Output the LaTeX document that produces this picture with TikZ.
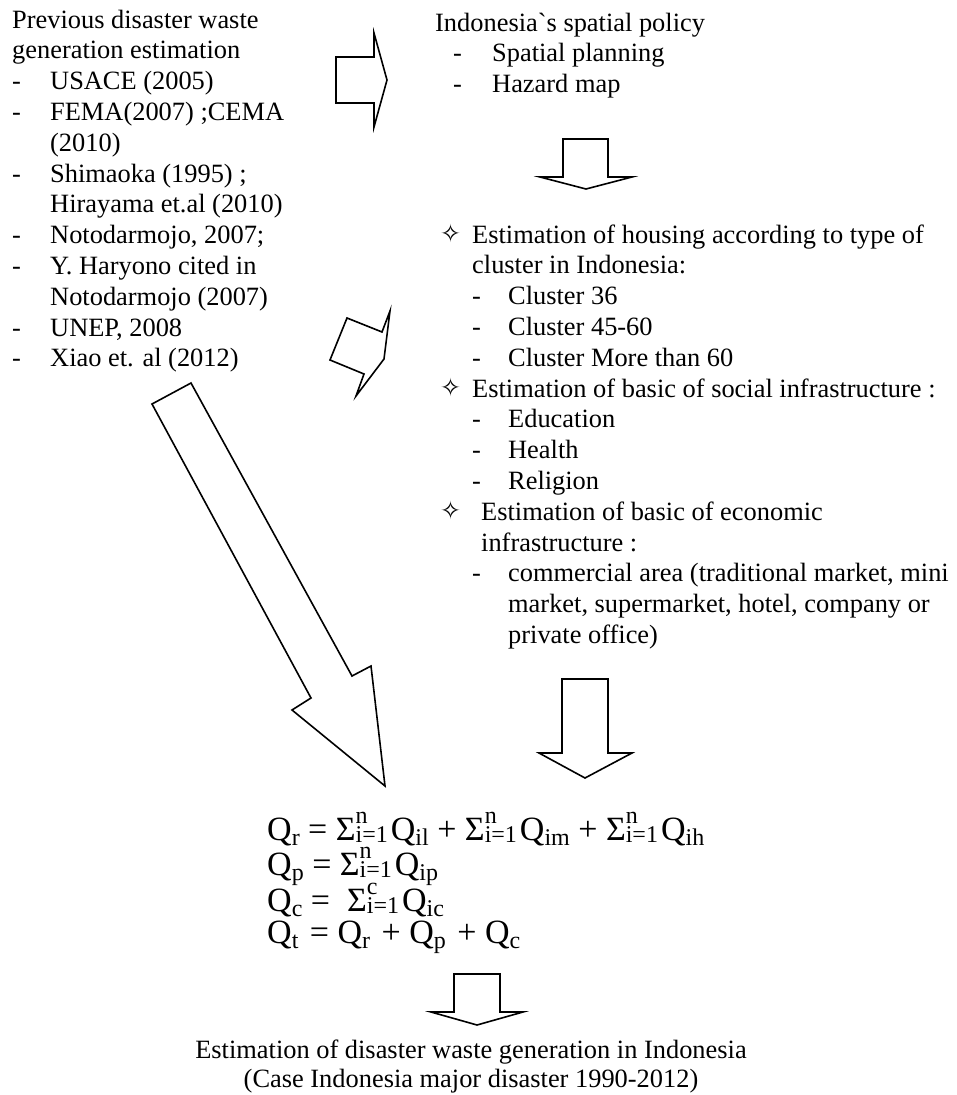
\documentclass[tikz,border=0pt]{standalone}
\usepackage{fontspec}
\setmainfont{Liberation Serif}
\newfontfamily\symfont{DejaVu Sans}
\newfontfamily\gravefont{Liberation Serif}[Ligatures=TeXOff]

% list helpers
\newcommand\dashitem[2]{\makebox[#1][l]{-}#2}
\newcommand\starmark[1]{\makebox[#1][l]{\raisebox{1pt}{\symfont\fontsize{25}{25}\selectfont ✧}}}
% equation pieces: subscripted Q and a sigma with side limits
\newcommand\scr{\fontsize{24}{24}\selectfont}
\newcommand\Qs[1]{Q\raisebox{-5.5pt}{\scr #1}}
\newcommand\sumi[1]{Σ\hbox{\scr\rlap{\raisebox{17pt}{#1}}\raisebox{-2pt}{i=1}}\hspace{3pt}}

\tikzset{
  txt/.style={anchor=base west, inner sep=0pt, font=\fontsize{26.4}{30.8}\selectfont},
  ctxt/.style={anchor=base, inner sep=0pt, font=\fontsize{26.4}{29}\selectfont},
  eqn/.style={anchor=base west, inner sep=0pt, font=\fontsize{34}{36}\selectfont},
  blockarrow/.style={draw=black, line width=1.6pt, line join=miter},
}

\begin{document}
\begin{tikzpicture}[x=1pt, y=-1pt]
  \fill[white] (0,0) rectangle (956,1095);
  \useasboundingbox (0,0) rectangle (956,1095);

  % source literature
  \node[txt] (prev) at (12,28) {\begin{tabular}[t]{@{}l@{}}
    Previous disaster waste\\
    generation estimation\\
    \dashitem{38pt}{USACE (2005)}\\
    \dashitem{38pt}{FEMA(2007) ;CEMA}\\
    \hspace*{38pt}(2010)\\
    \dashitem{38pt}{Shimaoka (1995) ;}\\
    \hspace*{38pt}Hirayama et.al (2010)\\
    \dashitem{38pt}{Notodarmojo, 2007;}\\
    \dashitem{38pt}{Y. Haryono cited in}\\
    \hspace*{38pt}Notodarmojo (2007)\\
    \dashitem{38pt}{UNEP, 2008}\\
    \dashitem{38pt}{Xiao et. al (2012)}
  \end{tabular}};

  % spatial policy
  \node[txt] (policy) at (435,31) {\begin{tabular}[t]{@{}l@{}}
    Indonesia{\gravefont `}s spatial policy\\
    \hspace*{18pt}\dashitem{39pt}{Spatial planning}\\
    \hspace*{18pt}\dashitem{39pt}{Hazard map}
  \end{tabular}};

  % estimation of buildings
  \node[txt] (est) at (440,243) {\begin{tabular}[t]{@{}l@{}}
    \starmark{32pt}Estimation of housing according to type of\\
    \hspace*{32pt}cluster  in Indonesia:\\
    \hspace*{32pt}\dashitem{36pt}{Cluster 36}\\
    \hspace*{32pt}\dashitem{36pt}{Cluster 45-60}\\
    \hspace*{32pt}\dashitem{36pt}{Cluster More than 60}\\
    \starmark{32pt}Estimation of basic of social infrastructure :\\
    \hspace*{32pt}\dashitem{36pt}{Education}\\
    \hspace*{32pt}\dashitem{36pt}{Health}\\
    \hspace*{32pt}\dashitem{36pt}{Religion}\\
    \starmark{41pt}Estimation of basic of economic\\
    \hspace*{41pt}infrastructure :\\
    \hspace*{32pt}\dashitem{36pt}{commercial area (traditional market, mini}\\
    \hspace*{68pt}market, supermarket, hotel, company or\\
    \hspace*{68pt}private office)
  \end{tabular}};

  % equations
  \node[eqn] (qr) at (267,840) {\Qs{r} = \sumi{n}\Qs{il} + \sumi{n}\Qs{im} + \sumi{n}\Qs{ih}};
  \node[eqn] (qp) at (267,875) {\Qs{p} = \sumi{n}\Qs{ip}};
  \node[eqn] (qc) at (267,911) {\Qs{c} = \ \sumi{c}\Qs{ic}};
  \node[eqn] (qt) at (267,943) {\Qs{t}\hspace{3pt} = \Qs{r}\hspace{3pt} + \Qs{p}\hspace{3pt} + \Qs{c}};

  % result
  \node[ctxt] (result) at (471,1058) {\begin{tabular}[t]{@{}c@{}}
    Estimation of disaster waste generation in Indonesia\\
    (Case Indonesia major disaster 1990-2012)
  \end{tabular}};

  % block arrows
  \draw[blockarrow] (336,57) -- (374,57) -- (374,33) -- (387,80) -- (374,127) -- (374,103) -- (336,103) -- cycle;
  \draw[blockarrow] (563,139) -- (608,139) -- (608,177) -- (632,177) -- (586,189) -- (540,177) -- (563,177) -- cycle;
  \draw[blockarrow] (330,360) -- (347,318) -- (382,332) -- (390,311) -- (384,359) -- (356,396) -- (364,374) -- cycle;
  \draw[blockarrow] (152,404) -- (191,383) -- (352,676) -- (371,666) -- (385,786) -- (292,710) -- (311,698) -- cycle;
  \draw[blockarrow] (562,679) -- (608,679) -- (608,753) -- (632,753) -- (585,778) -- (539,753) -- (562,753) -- cycle;
  \draw[blockarrow] (454,974) -- (500,974) -- (500,1012) -- (523,1012) -- (477,1025) -- (431,1012) -- (454,1012) -- cycle;
\end{tikzpicture}
\end{document}
